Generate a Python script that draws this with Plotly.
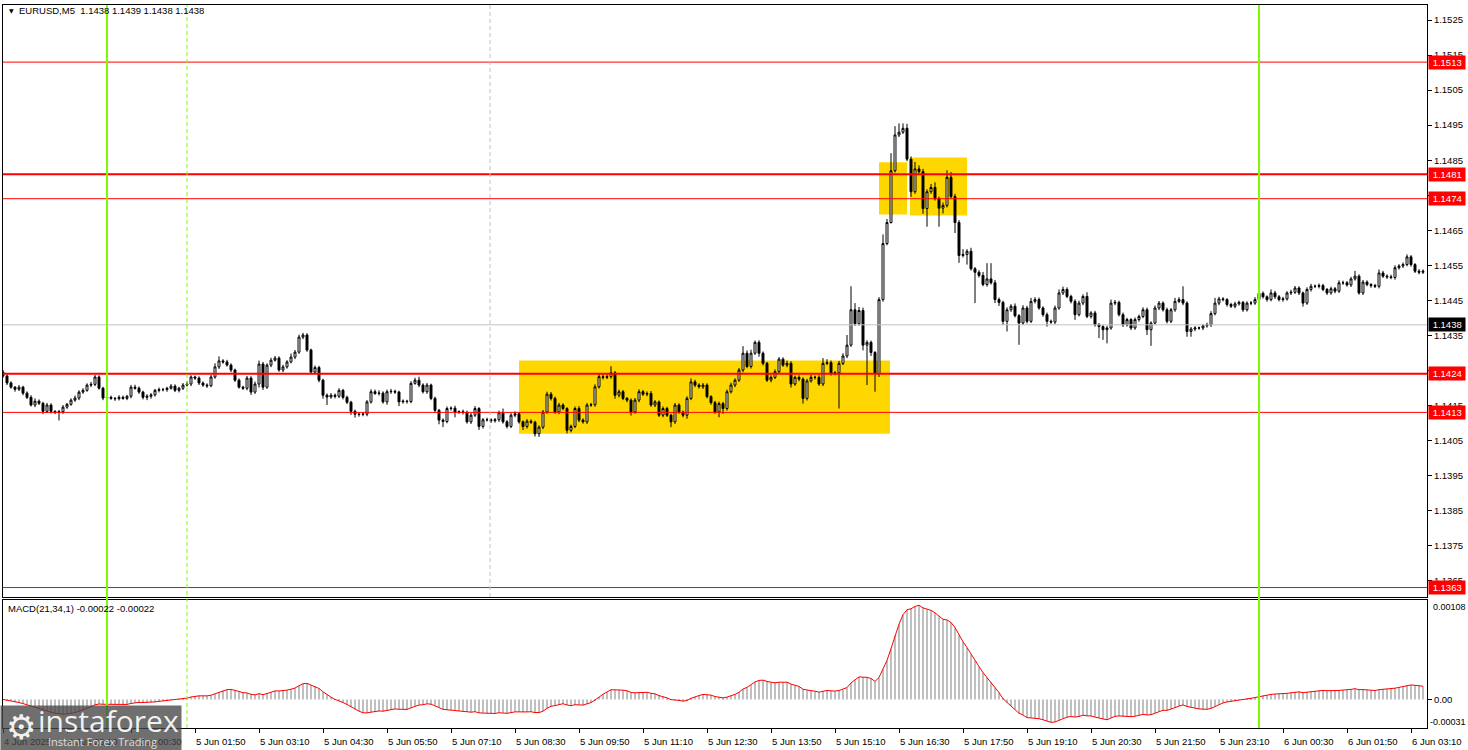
import plotly.graph_objects as go
import pandas as pd

# ---------------- data (prices in pips above BASE) ----------------
BASE = 1.1400
first_open = 24.5
closes_pips = [
    23.4, 21.4, 20.2, 19.6, 20.2, 18.5, 17.3, 15.1, 16.2, 15.6,
    13.3, 15.1, 13.3, 13.0, 13.2, 14.5, 15.3, 16.5, 17.1, 18.8,
    19.3, 20.8, 21.0, 23.1, 19.9, 17.1, 17.3, 17.0, 16.9, 17.3,
    17.0, 17.6, 20.2, 19.9, 18.8, 17.3, 17.6, 18.0, 19.3, 19.5,
    19.5, 19.9, 20.5, 19.3, 19.9, 20.8, 21.1, 23.1, 22.8, 21.4,
    20.8, 20.6, 23.1, 26.0, 27.7, 27.4, 26.5, 25.1, 22.2, 20.2,
    19.9, 22.8, 18.8, 21.1, 26.8, 20.2, 26.5, 27.9, 28.5, 25.1,
    26.0, 27.4, 28.8, 30.2, 34.5, 35.1, 30.8, 24.5, 25.8, 22.2,
    17.9, 17.4, 17.9, 17.6, 19.3, 17.3, 15.9, 13.3, 12.5, 12.4,
    12.5, 16.0, 18.9, 18.4, 18.5, 16.0, 18.9, 19.0, 18.8, 16.0,
    16.2, 16.1, 21.3, 22.2, 20.8, 18.9, 20.8, 17.0, 13.6, 10.8,
    10.4, 14.1, 14.2, 13.1, 13.2, 13.0, 10.3, 12.2, 14.1, 9.0,
    10.9, 10.9, 10.6, 10.9, 12.9, 10.3, 9.0, 12.2, 12.6, 10.3,
    9.0, 10.5, 10.2, 6.9, 8.8, 13.1, 18.2, 17.0, 13.1, 15.1,
    14.1, 7.9, 9.0, 14.1, 10.8, 10.3, 15.1, 15.2, 20.3, 23.2,
    23.0, 23.2, 24.3, 17.9, 18.9, 17.0, 16.5, 13.1, 16.5, 18.9,
    18.2, 18.4, 15.1, 16.0, 12.2, 14.1, 12.2, 10.3, 15.1, 13.1,
    12.2, 17.0, 21.7, 20.8, 20.3, 20.8, 17.5, 15.8, 13.1, 15.5,
    14.1, 18.9, 20.8, 22.2, 25.1, 29.9, 26.1, 29.9, 33.0, 29.9,
    27.0, 22.2, 23.0, 24.6, 28.2, 26.5, 27.0, 21.1, 23.0, 22.5,
    17.0, 22.0, 23.0, 23.0, 21.1, 27.0, 27.2, 24.1, 24.3, 27.0,
    29.1, 32.2, 42.3, 38.3, 42.1, 32.2, 33.0, 30.1, 24.1, 45.2,
    61.2, 67.2, 82.0, 92.2, 93.0, 94.1, 85.3, 76.0, 82.5, 81.7,
    71.2, 76.0, 77.2, 74.0, 71.3, 72.1, 80.1, 74.6, 67.2, 57.8,
    58.1, 59.0, 54.0, 53.0, 52.1, 49.5, 51.1, 50.0, 45.2, 44.4,
    39.0, 42.3, 43.3, 40.6, 38.5, 42.8, 39.0, 44.7, 45.2, 42.8,
    40.9, 39.0, 38.8, 42.8, 47.1, 48.1, 46.1, 44.7, 40.9, 44.2,
    46.1, 40.4, 41.4, 38.0, 37.5, 36.6, 37.1, 44.2, 44.4, 40.9,
    38.0, 39.5, 37.1, 39.5, 40.4, 42.3, 36.6, 38.5, 42.8, 44.2,
    42.3, 39.0, 42.3, 44.7, 45.2, 44.2, 36.1, 36.8, 37.1, 37.1,
    37.7, 38.0, 41.2, 44.2, 45.4, 45.2, 43.8, 43.3, 44.0, 44.4,
    42.3, 44.2, 44.2, 45.2, 47.0, 46.0, 45.2, 47.1, 46.0, 45.2,
    45.4, 47.1, 47.3, 48.5, 47.1, 44.2, 48.1, 49.0, 49.0, 49.2,
    48.1, 47.1, 48.3, 47.6, 50.0, 50.0, 49.4, 51.1, 51.9, 47.1,
    50.2, 49.5, 49.2, 49.0, 52.8, 51.9, 51.7, 51.5, 54.3, 54.8,
    55.2, 57.4, 55.2, 53.3, 53.0, 53.3,
]
up_wick = [
    0.6, 0.4, 0.5, 0.3, 0.6, 0.4, 0.5, 0.6, 0.8, 0.5,
    0.4, 0.6, 0.5, 0.3, 0.5, 0.6, 0.4, 0.5, 0.7, 0.5,
    0.6, 0.5, 0.7, 0.6, 0.5, 0.4, 0.3, 0.5, 0.4, 0.6,
    0.5, 0.4, 0.6, 0.7, 0.5, 0.4, 0.6, 0.5, 0.4, 0.6,
    0.5, 0.4, 0.6, 0.5, 0.4, 0.6, 0.8, 0.5, 0.4, 0.5,
    0.4, 0.5, 0.6, 1.0, 1.3, 0.5, 0.6, 0.5, 0.4, 0.5,
    0.4, 0.6, 0.5, 0.7, 1.0, 0.6, 0.5, 0.7, 0.6, 0.5,
    0.6, 0.5, 1.0, 0.6, 0.7, 0.6, 0.5, 0.4, 0.6, 0.5,
    0.4, 0.5, 0.6, 0.5, 0.6, 0.4, 0.5, 0.4, 0.5, 0.4,
    0.6, 0.5, 0.7, 0.6, 0.8, 0.5, 0.6, 0.7, 0.5, 0.4,
    0.5, 0.4, 0.6, 0.7, 1.0, 0.5, 0.6, 0.4, 0.5, 0.4,
    0.5, 0.6, 0.5, 0.7, 0.4, 0.6, 0.5, 0.6, 0.7, 0.4,
    0.5, 0.6, 0.4, 0.5, 0.6, 1.2, 0.5, 0.6, 0.7, 0.5,
    0.4, 0.6, 0.5, 0.4, 0.5, 0.6, 0.7, 0.6, 0.5, 0.6,
    0.5, 0.4, 0.5, 0.6, 0.7, 0.5, 0.6, 0.5, 0.7, 0.8,
    1.0, 0.7, 1.9, 0.5, 0.6, 0.5, 0.4, 0.5, 0.6, 0.7,
    0.5, 0.6, 0.7, 0.5, 0.4, 0.6, 0.5, 0.4, 0.6, 0.5,
    0.4, 0.6, 1.0, 0.6, 0.5, 0.6, 0.5, 0.4, 0.5, 0.6,
    0.5, 0.6, 0.7, 0.5, 0.6, 2.0, 0.8, 1.0, 0.5, 0.6,
    0.5, 0.4, 0.6, 0.7, 0.6, 0.5, 0.8, 0.6, 0.5, 0.6,
    0.5, 0.6, 0.7, 0.5, 0.6, 1.5, 1.0, 0.6, 0.5, 0.7,
    0.8, 2.9, 6.7, 1.9, 1.0, 0.8, 0.6, 0.5, 0.4, 0.7,
    2.6, 1.0, 5.0, 2.5, 2.5, 1.4, 1.3, 0.8, 2.0, 1.0,
    0.8, 0.7, 1.0, 1.5, 0.6, 0.8, 2.0, 1.5, 0.8, 0.7,
    1.5, 0.6, 1.0, 0.5, 0.6, 1.0, 4.5, 4.5, 0.8, 0.6,
    0.5, 0.7, 0.6, 0.8, 0.5, 0.8, 0.6, 1.0, 0.7, 0.6,
    0.5, 0.6, 0.5, 0.7, 1.0, 0.8, 0.6, 0.5, 0.6, 0.7,
    0.6, 1.2, 0.5, 0.6, 0.5, 0.4, 0.6, 1.0, 0.7, 0.5,
    0.6, 0.5, 0.4, 0.6, 0.5, 0.7, 0.6, 0.5, 0.7, 0.6,
    0.5, 0.6, 0.5, 1.0, 0.7, 3.8, 0.5, 0.6, 0.5, 0.4,
    0.5, 0.6, 0.7, 1.5, 0.6, 0.5, 0.4, 0.5, 0.6, 0.5,
    0.4, 0.5, 0.6, 0.7, 0.6, 0.5, 0.4, 1.0, 0.6, 0.5,
    0.6, 0.5, 0.7, 0.6, 0.5, 0.4, 0.6, 0.7, 0.5, 0.6,
    0.5, 0.4, 0.6, 0.5, 0.7, 0.6, 0.5, 0.6, 1.5, 0.5,
    0.6, 0.5, 0.4, 0.5, 1.0, 0.6, 0.5, 0.6, 0.7, 0.5,
    0.6, 0.7, 0.5, 0.4, 0.6, 0.5,
]
dn_wick = [
    0.5, 0.6, 0.4, 0.7, 0.5, 0.6, 0.5, 0.4, 0.6, 0.5,
    0.8, 0.5, 0.6, 0.5, 2.3, 0.6, 0.5, 0.4, 0.5, 0.6,
    0.5, 0.4, 0.6, 0.5, 0.4, 0.6, 0.5, 0.4, 0.6, 0.5,
    0.4, 0.5, 0.6, 0.4, 0.5, 0.6, 0.8, 0.7, 0.5, 0.6,
    0.5, 0.6, 0.4, 0.5, 0.6, 0.5, 0.4, 0.6, 0.5, 0.6,
    0.5, 0.6, 0.4, 0.5, 0.6, 0.5, 0.4, 0.6, 0.5, 0.4,
    0.5, 0.6, 0.8, 0.5, 1.0, 0.8, 0.5, 0.6, 0.4, 0.5,
    0.6, 0.5, 0.4, 0.6, 0.5, 0.6, 0.5, 0.6, 0.5, 0.6,
    1.0, 2.3, 0.5, 0.6, 0.5, 0.6, 0.5, 1.0, 1.0, 0.6,
    0.5, 0.6, 0.5, 0.4, 0.6, 0.5, 0.8, 0.6, 0.5, 1.2,
    0.5, 0.6, 0.5, 0.4, 0.6, 0.5, 0.6, 0.5, 0.6, 1.2,
    1.6, 0.5, 0.6, 1.5, 0.5, 0.6, 0.5, 0.6, 0.5, 1.0,
    0.6, 0.5, 0.6, 0.5, 0.6, 0.5, 0.6, 0.5, 0.6, 0.5,
    1.0, 0.6, 0.5, 0.8, 0.9, 0.6, 0.5, 0.6, 0.5, 0.6,
    0.5, 0.9, 0.6, 0.5, 0.6, 0.5, 0.6, 0.5, 0.6, 0.5,
    0.6, 0.5, 0.6, 1.0, 0.6, 0.5, 0.6, 1.0, 0.5, 0.6,
    0.5, 0.6, 0.5, 0.6, 0.5, 0.6, 0.5, 1.5, 0.6, 0.5,
    0.6, 1.0, 0.5, 0.6, 0.5, 0.6, 0.5, 0.6, 0.5, 1.5,
    1.5, 0.6, 0.5, 0.6, 0.5, 0.6, 0.5, 0.6, 0.5, 1.0,
    0.6, 0.5, 0.6, 0.5, 0.6, 0.5, 0.6, 1.0, 0.5, 0.6,
    1.5, 0.6, 0.5, 0.6, 0.5, 0.6, 0.5, 0.6, 0.5, 10.2,
    0.5, 0.6, 0.5, 0.6, 0.5, 1.5, 11.4, 1.0, 5.2, 1.0,
    0.6, 0.5, 0.3, 0.5, 0.6, 0.5, 0.6, 1.5, 0.6, 0.5,
    1.5, 5.2, 0.6, 0.5, 5.3, 1.5, 0.6, 0.5, 3.0, 2.1,
    0.6, 2.9, 0.5, 8.8, 0.6, 0.5, 0.6, 0.5, 1.0, 1.0,
    1.0, 2.9, 0.6, 0.5, 6.2, 0.5, 0.6, 0.5, 0.6, 0.5,
    0.6, 1.5, 0.5, 0.6, 0.5, 0.6, 0.5, 0.6, 1.5, 0.5,
    0.6, 0.5, 0.6, 0.5, 3.3, 2.9, 3.9, 0.5, 0.6, 0.5,
    0.6, 0.5, 0.6, 0.5, 0.6, 0.5, 1.5, 4.6, 0.5, 0.6,
    0.5, 0.6, 0.5, 0.6, 0.5, 0.6, 1.5, 1.5, 0.6, 0.5,
    0.6, 0.5, 0.6, 0.5, 0.6, 0.5, 0.6, 0.5, 0.6, 0.5,
    0.6, 0.5, 0.6, 0.5, 0.6, 0.5, 0.6, 0.5, 0.6, 0.5,
    0.6, 0.5, 0.6, 0.5, 0.6, 1.0, 0.5, 0.6, 0.5, 0.6,
    0.5, 0.6, 0.5, 0.6, 0.5, 0.6, 0.5, 0.6, 0.5, 0.5,
    0.6, 0.5, 0.6, 0.5, 0.6, 0.5, 0.6, 0.5, 0.6, 0.5,
    0.6, 0.5, 0.6, 0.5, 0.6, 0.5,
]

# x-axis tick labels (every 16 bars of 5 minutes)
time_labels = [
    "4 Jun 2025", "4 Jun 23:10", "5 Jun 00:30", "5 Jun 01:50", "5 Jun 03:10",
    "5 Jun 04:30", "5 Jun 05:50", "5 Jun 07:10", "5 Jun 08:30", "5 Jun 09:50",
    "5 Jun 11:10", "5 Jun 12:30", "5 Jun 13:50", "5 Jun 15:10", "5 Jun 16:30",
    "5 Jun 17:50", "5 Jun 19:10", "5 Jun 20:30", "5 Jun 21:50", "5 Jun 23:10",
    "6 Jun 00:30", "6 Jun 01:50", "6 Jun 03:10",
]
price_tick_labels = [
    "1.1365", "1.1375", "1.1385", "1.1395", "1.1405", "1.1415", "1.1425",
    "1.1435", "1.1445", "1.1455", "1.1465", "1.1475", "1.1485", "1.1495",
    "1.1505", "1.1515", "1.1525",
]
# horizontal levels
level_values = [1.1513, 1.1481, 1.1474, 1.1424, 1.1413, 1.1363]
level_labels = ["1.1513", "1.1481", "1.1474", "1.1424", "1.1413", "1.1363"]
level_thick = [False, True, False, True, False, False]
bid_value = 1.1438
bid_label = "1.1438"
# yellow zones (bar index start/end, price low/high)
zone_x0 = [129.0, 219.0, 226.75]
zone_x1 = [221.75, 226.0, 241.0]
zone_lo = [1.14069, 1.14695, 1.14692]
zone_hi = [1.14278, 1.14844, 1.14858]
# vertical markers (bar index)
midnight_bars = [26, 314]
dashed_green_bar = [46]
dashed_gray_bar = [121.75]

title_text = "EURUSD,M5  1.1438 1.1439 1.1438 1.1438"
macd_text = "MACD(21,34,1) -0.00022 -0.00022"
macd_max_label = "0.00108"
macd_min_label = "-0.00031"

# ---------------- derived series ----------------
n = len(closes_pips)
xs = list(range(n))
opens_pips = [first_open] + closes_pips[:-1]
o = [BASE + v / 1e4 for v in opens_pips]
c = [BASE + v / 1e4 for v in closes_pips]
h = [BASE + (max(a, b) + u) / 1e4 for a, b, u in zip(opens_pips, closes_pips, up_wick)]
l = [BASE + (min(a, b) - d) / 1e4 for a, b, d in zip(opens_pips, closes_pips, dn_wick)]

cs = pd.Series(c)
macd = (cs.ewm(span=21, adjust=False).mean() - cs.ewm(span=34, adjust=False).mean()).tolist()

# ---------------- geometry helpers ----------------
W, H = 1468, 750
ML, MR, MT, MB = 3, 41, 5, 22
PW, PH = W - ML - MR, H - MT - MB


def pxx(px):
    return (px - ML) / PW


def pxy(py):
    return (H - MB - py) / PH


FONT = "Liberation Sans, Arial, sans-serif"
FS = 9.5

fig = go.Figure()
fig.add_trace(go.Candlestick(
    x=xs, open=o, high=h, low=l, close=c,
    increasing=dict(fillcolor="white", line=dict(color="black", width=1)),
    decreasing=dict(fillcolor="black", line=dict(color="black", width=1)),
    whiskerwidth=0, showlegend=False, hoverinfo="skip",
    xaxis="x", yaxis="y",
))
fig.add_trace(go.Bar(
    x=xs, y=macd, width=0.5, marker=dict(color="#C0C0C0", line=dict(width=0)),
    showlegend=False, hoverinfo="skip", xaxis="x2", yaxis="y2",
))
fig.add_trace(go.Scatter(
    x=xs, y=macd, mode="lines", line=dict(color="red", width=1),
    showlegend=False, hoverinfo="skip", xaxis="x2", yaxis="y2",
))

xr = [0, 356]
main_bottom = pxy(597)
macd_top = pxy(600)

tick_bars = [16 * i for i in range(len(time_labels))]

fig.update_layout(
    width=W, height=H,
    margin=dict(l=ML, r=MR, t=MT, b=MB, autoexpand=False),
    paper_bgcolor="white", plot_bgcolor="white",
    showlegend=False,
    font=dict(family=FONT, size=FS, color="black"),
    xaxis=dict(domain=[0, 1], range=xr, anchor="y", showticklabels=False,
               showgrid=False, zeroline=False, showline=True, mirror=True,
               linecolor="black", linewidth=1, ticks="", automargin=False,
               rangeslider=dict(visible=False), fixedrange=True),
    yaxis=dict(domain=[main_bottom, 1], range=[1.13603, 1.15293], side="right",
               tickvals=[float(s) for s in price_tick_labels], ticktext=price_tick_labels,
               ticks="outside", ticklen=4, tickcolor="black", automargin=False,
               tickfont=dict(family=FONT, size=FS, color="black"),
               showgrid=False, zeroline=False, showline=True, mirror=True,
               linecolor="black", linewidth=1, fixedrange=True),
    xaxis2=dict(domain=[0, 1], range=xr, anchor="y2", matches="x",
                tickvals=tick_bars, ticks="outside", ticklen=4, tickcolor="black",
                showticklabels=False, showgrid=False, zeroline=False, automargin=False,
                showline=True, mirror=True, linecolor="black", linewidth=1),
    yaxis2=dict(domain=[0, macd_top], range=[-0.00031, 0.00108], side="right",
                tickvals=[0], ticktext=["0.00"], ticks="outside", ticklen=4,
                tickcolor="black", tickfont=dict(family=FONT, size=FS, color="black"),
                showgrid=False, zeroline=False, showline=True, mirror=True, automargin=False,
                linecolor="black", linewidth=1, fixedrange=True),
)

shapes = []
# yellow zones
for x0, x1, y0, y1 in zip(zone_x0, zone_x1, zone_lo, zone_hi):
    shapes.append(dict(type="rect", xref="x", yref="y", x0=x0, x1=x1, y0=y0, y1=y1,
                       fillcolor="#FFD700", line=dict(width=0), layer="below"))
# horizontal levels
for v, thick in zip(level_values, level_thick):
    shapes.append(dict(type="line", xref="paper", yref="y", x0=0, x1=1, y0=v, y1=v,
                       line=dict(color="red", width=2 if thick else 1), layer="above"))
shapes.append(dict(type="line", xref="paper", yref="y", x0=0, x1=1, y0=bid_value, y1=bid_value,
                   line=dict(color="#C0C0C0", width=1), layer="above"))
# vertical lines
for b in midnight_bars:
    shapes.append(dict(type="line", xref="x", yref="paper", x0=b, x1=b, y0=0, y1=1,
                       line=dict(color="#7CFC00", width=2), layer="above"))
for b in dashed_green_bar:
    shapes.append(dict(type="line", xref="x", yref="paper", x0=b, x1=b, y0=0, y1=1,
                       line=dict(color="#7CFC00", width=1, dash="4px,3px"), layer="above"))
for b in dashed_gray_bar:
    shapes.append(dict(type="line", xref="x", yref="paper", x0=b, x1=b, y0=main_bottom, y1=1,
                       line=dict(color="#C0C0C0", width=1, dash="4px,3px"), layer="above"))
fig.update_layout(shapes=shapes)

ann = []
# level labels
for v, lab in zip(level_values, level_labels):
    ann.append(dict(xref="paper", yref="y", x=1, y=v, xanchor="left", yanchor="middle",
                    xshift=1, text=" " + lab + " ", showarrow=False,
                    font=dict(family=FONT, size=FS, color="white"),
                    bgcolor="#FF0000", borderpad=1))
ann.append(dict(xref="paper", yref="y", x=1, y=bid_value, xanchor="left", yanchor="middle",
                xshift=1, text=" " + bid_label + " ", showarrow=False,
                font=dict(family=FONT, size=FS, color="white"),
                bgcolor="black", borderpad=1))
# title
ann.append(dict(xref="paper", yref="paper", x=pxx(7), y=pxy(11), xanchor="left", yanchor="middle",
                text="\u25BC", showarrow=False, font=dict(family="DejaVu Sans", size=6, color="black")))
ann.append(dict(xref="paper", yref="paper", x=pxx(17), y=pxy(11), xanchor="left", yanchor="middle",
                text=title_text, showarrow=False, font=dict(family=FONT, size=FS, color="black")))
ann.append(dict(xref="paper", yref="paper", x=pxx(6), y=pxy(608), xanchor="left", yanchor="middle",
                text=macd_text, showarrow=False, font=dict(family=FONT, size=FS, color="black")))
# macd range labels
ann.append(dict(xref="paper", yref="paper", x=pxx(1431), y=pxy(607), xanchor="left", yanchor="middle",
                text=macd_max_label, showarrow=False, font=dict(family=FONT, size=9, color="black")))
ann.append(dict(xref="paper", yref="paper", x=pxx(1428), y=pxy(722), xanchor="left", yanchor="middle",
                text=macd_min_label, showarrow=False, font=dict(family=FONT, size=9, color="black")))
# time labels
for b, lab in zip(tick_bars, time_labels):
    ann.append(dict(xref="x2", yref="paper", x=b, y=pxy(741), xanchor="left", yanchor="middle",
                    xshift=-1, text=lab, showarrow=False,
                    font=dict(family=FONT, size=FS, color="black")))
# watermark
ann.append(dict(xref="paper", yref="paper", x=pxx(0), y=pxy(705), xanchor="left", yanchor="top",
                text=" ", showarrow=False, width=180, height=45,
                bgcolor="rgba(70,70,70,0.78)", borderpad=0))
ann.append(dict(xref="paper", yref="paper", x=pxx(4), y=pxy(727), xanchor="left", yanchor="middle",
                text="\u2699", showarrow=False,
                font=dict(family="DejaVu Sans", size=34, color="rgba(255,255,255,0.92)")))
ann.append(dict(xref="paper", yref="paper", x=pxx(36), y=pxy(720), xanchor="left", yanchor="middle",
                text="instaforex", showarrow=False,
                font=dict(family="Open Sans", size=30, color="rgba(255,255,255,0.92)")))
ann.append(dict(xref="paper", yref="paper", x=pxx(46), y=pxy(741), xanchor="left", yanchor="middle",
                text="Instant Forex Trading", showarrow=False,
                font=dict(family="Open Sans", size=11, color="rgba(235,235,235,0.9)")))
fig.update_layout(annotations=ann)

fig.write_html("out.html", config={"displayModeBar": False},
               post_script="document.body.style.margin='0';document.body.style.overflow='hidden';")
